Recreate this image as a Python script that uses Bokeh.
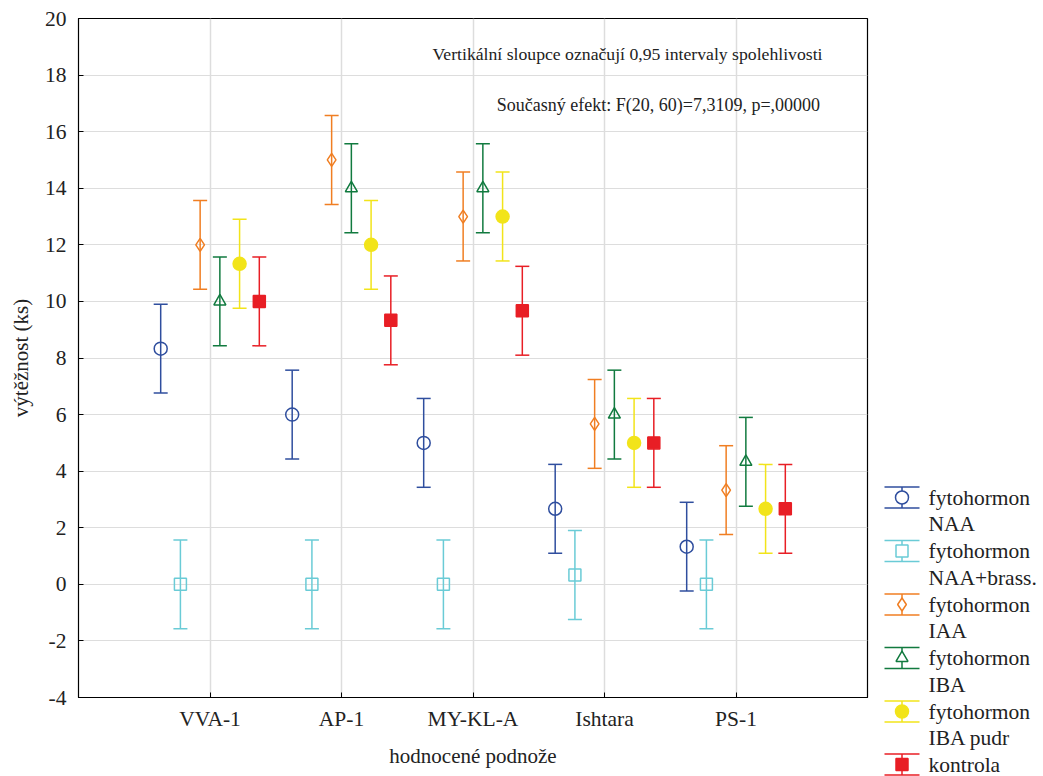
from bokeh.plotting import figure
from bokeh.models import (Range1d, FixedTicker, ColumnDataSource, Whisker, TeeHead, Label)
from bokeh.layouts import row
from bokeh.core.properties import value
from bokeh.embed import file_html
from bokeh.resources import INLINE

# ---- data ----
categories = ["VVA-1", "AP-1", "MY-KL-A", "Ishtara", "PS-1"]
series_names = ["fytohormon\nNAA", "fytohormon\nNAA+brass.", "fytohormon\nIAA",
                "fytohormon\nIBA", "fytohormon\nIBA pudr", "kontrola"]
naa = [8.33, 6.0, 5.0, 2.67, 1.33]
naa_brass = [0.0, 0.0, 0.0, 0.33, 0.0]
iaa = [12.0, 15.0, 13.0, 5.67, 3.33]
iba = [10.0, 14.0, 14.0, 6.0, 4.33]
iba_pudr = [11.33, 12.0, 13.0, 5.0, 2.67]
kontrola = [10.0, 9.33, 9.67, 5.0, 2.67]
ci_half = [1.57, 1.57, 1.57, 1.57, 1.57]  # 0.95 CI half-width (pooled)
y_ticks = [-4, -2, 0, 2, 4, 6, 8, 10, 12, 14, 16, 18, 20]

series_values = [naa, naa_brass, iaa, iba, iba_pudr, kontrola]

# ---- styles ----
colors = ["#2F4E9E", "#6ACBD6", "#F07E22", "#117A3F", "#F2E41A", "#E81E25"]
markers = ["circle", "square", "diamond", "triangle", "circle", "square"]
fills = [None, None, None, None, "#F2E41A", "#E81E25"]
msizes = [13, 12, 13, 12, 13, 12]
offsets = [-0.375, -0.225, -0.075, 0.075, 0.225, 0.375]
SERIF = "Liberation Serif"
TOP, BOTTOM = 18, 79

p = figure(width=870, height=776, x_range=Range1d(0, 6), y_range=Range1d(-4, 20),
           output_backend="svg", toolbar_location=None,
           min_border_left=78, min_border_right=3, min_border_top=TOP, min_border_bottom=BOTTOM)
p.outline_line_color = "black"
p.outline_line_width = 1.2
p.background_fill_color = "white"
p.border_fill_color = "white"

p.xaxis.ticker = FixedTicker(ticks=[1, 2, 3, 4, 5])
p.xaxis.major_label_overrides = {i + 1: c for i, c in enumerate(categories)}
p.yaxis.ticker = FixedTicker(ticks=y_ticks)
p.yaxis.major_label_overrides = {t: str(t) for t in y_ticks}
for ax in (p.xaxis, p.yaxis):
    ax.major_label_text_font = SERIF
    ax.major_label_text_font_size = "21.5px"
    ax.major_label_text_color = "#222222"
    ax.axis_label_text_font = SERIF
    ax.axis_label_text_font_size = "21px"
    ax.axis_label_text_font_style = "normal"
    ax.axis_label_text_color = "#222222"
    ax.axis_line_color = "black"
    ax.major_tick_line_color = "black"
    ax.major_tick_in = 5
    ax.major_tick_out = 0
    ax.minor_tick_line_color = None
p.xaxis.major_label_standoff = 9
p.xaxis.axis_label = "hodnocené podnože"
p.xaxis.axis_label_standoff = 10
p.yaxis.major_label_standoff = 12
p.yaxis.axis_label = "výtěžnost (ks)"
p.yaxis.axis_label_standoff = 9

p.xgrid.grid_line_color = "#dddddd"
p.xgrid.grid_line_width = 1.5
p.ygrid.grid_line_color = "#dddddd"
p.ygrid.grid_line_width = 1.2

for k, vals in enumerate(series_values):
    xs = [i + 1 + offsets[k] for i in range(len(categories))]
    src = ColumnDataSource(dict(
        x=xs, y=vals,
        upper=[v + h for v, h in zip(vals, ci_half)],
        lower=[v - h for v, h in zip(vals, ci_half)]))
    w = Whisker(source=src, base="x", upper="upper", lower="lower",
                line_color=colors[k], line_width=1.5,
                upper_head=TeeHead(size=14, line_color=colors[k], line_width=1.5),
                lower_head=TeeHead(size=14, line_color=colors[k], line_width=1.5))
    p.add_layout(w)
    p.scatter("x", "y", source=src, marker=markers[k], size=msizes[k],
              line_color=colors[k], line_width=1.5,
              fill_color=fills[k] if fills[k] else "white",
              fill_alpha=1.0 if fills[k] else 0.0)

p.add_layout(Label(x=4.175, y=18.75, text="Vertikální sloupce označují 0,95 intervaly spolehlivosti",
                   text_font=SERIF, text_font_size="17.7px", text_align="center",
                   text_baseline="middle", text_color="#222222"))
p.add_layout(Label(x=4.41, y=16.95, text="Současný efekt: F(20, 60)=7,3109, p=,00000",
                   text_font=SERIF, text_font_size="18px", text_align="center",
                   text_baseline="middle", text_color="#222222"))

# ---- legend panel (coordinates = page pixels) ----
leg = figure(width=173, height=776, x_range=Range1d(0, 173), y_range=Range1d(776, 0),
             output_backend="svg", toolbar_location=None,
             x_axis_location=None, y_axis_location=None,
             min_border_left=0, min_border_right=0,
             min_border_top=0, min_border_bottom=0)
if "frame_align" in leg.properties():
    leg.frame_align = False
    p.frame_align = False
leg.grid.visible = False
leg.outline_line_color = None
leg.border_fill_color = "white"

item_y = [497, 550.5, 604, 657.5, 711, 764]
sx0, sx1, sxc, tx = 14, 49, 31.5, 58
for k, name in enumerate(series_names):
    yc = item_y[k]
    c = colors[k]
    leg.segment(x0=[sxc, sx0, sx0], y0=[yc - 10.5, yc - 10.5, yc + 10.5],
                x1=[sxc, sx1, sx1], y1=[yc + 10.5, yc - 10.5, yc + 10.5],
                line_color=c, line_width=1.5)
    leg.scatter([sxc], [yc], marker=markers[k], size=msizes[k],
                line_color=c, line_width=1.5,
                fill_color=fills[k] if fills[k] else "white",
                fill_alpha=1.0)
    lines = name.split("\n")
    for j, t in enumerate(lines):
        leg.text(x=[tx], y=[yc + j * 26.5], text=[t], text_font=value(SERIF),
                 text_font_size="21.5px", text_baseline="middle", text_align="left",
                 text_color="#222222")

layout = row(p, leg, spacing=0)
open("out.html", "w").write(file_html(layout, INLINE))
